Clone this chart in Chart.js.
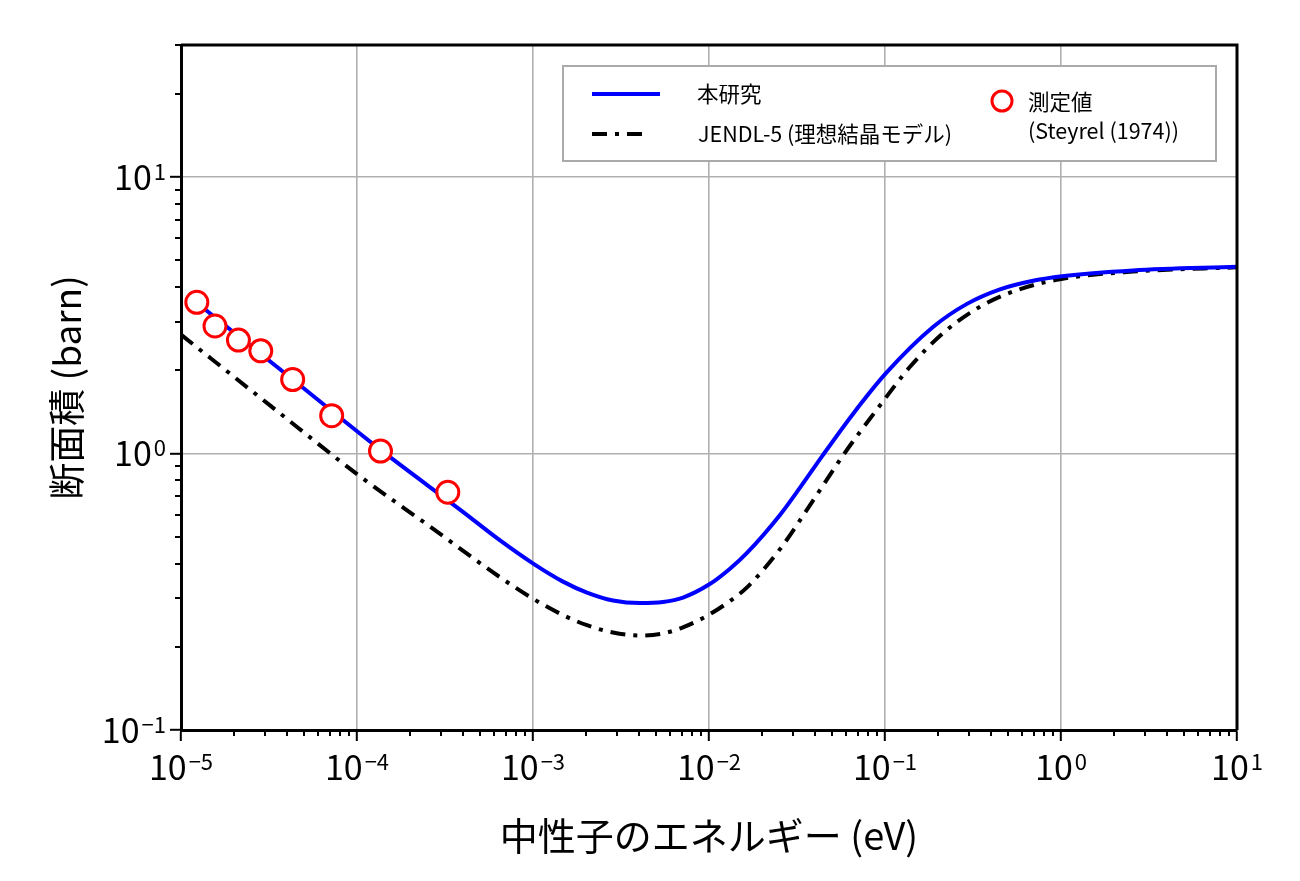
<!DOCTYPE html>
<html lang="ja">
<head>
<meta charset="UTF-8">
<title>断面積 - 中性子のエネルギー</title>
<script src="https://cdn.jsdelivr.net/npm/chart.js"></script>
<style>
  html, body { margin: 0; padding: 0; background: #fff; }
  #wrap { width: 1300px; height: 881px; }
</style>
</head>
<body>
<div id="wrap"><canvas id="chart" width="1300" height="881"></canvas></div>
<script>
// 本研究 (eV, barn)
const studyEnergy = [1.249e-5, 4.16e-5, 1.351e-4, 4.0e-4, 6.245e-4, 1.013e-3, 1.481e-3, 2.026e-3, 2.847e-3,
                     4.055e-3, 5.48e-3, 7.116e-3, 1e-2, 1.316e-2, 1.644e-2, 2.531e-2, 3.289e-2, 4.385e-2,
                     6.58e-2, 0.1013, 0.1874, 0.2923, 0.4501, 0.6934, 1.013, 2.566, 10];
const studyXs = [3.48, 1.886, 1.034, 0.615, 0.494, 0.398, 0.344, 0.314, 0.294,
                 0.2877, 0.2904, 0.3013, 0.3357, 0.3832, 0.4371, 0.5996, 0.7523, 0.9761,
                 1.39, 1.951, 2.866, 3.475, 3.922, 4.213, 4.377, 4.592, 4.73];

// JENDL-5 (理想結晶モデル)
const jendlEnergy = [1e-5, 3.204e-5, 1.013e-4, 2.6e-4, 6.494e-4, 1.013e-3, 1.481e-3, 2.026e-3, 2.847e-3,
                     4.055e-3, 5.48e-3, 7.116e-3, 1e-2, 1.316e-2, 1.644e-2, 2.531e-2, 3.9e-2, 5.772e-2,
                     9.0e-2, 0.1387, 0.2136, 0.3466, 0.5623, 0.987, 2.566, 10];
const jendlXs = [2.69, 1.492, 0.837, 0.5438, 0.3568, 0.2969, 0.2603, 0.2393, 0.2252,
                 0.2197, 0.2235, 0.235, 0.2612, 0.2928, 0.328, 0.4508, 0.6756, 0.9835,
                 1.443, 2.058, 2.722, 3.395, 3.896, 4.269, 4.546, 4.71];

// 測定値 (Steyrel (1974))
const measEnergy = [1.23e-5, 1.56e-5, 2.12e-5, 2.84e-5, 4.31e-5, 7.18e-5, 1.36e-4, 3.28e-4];
const measXs = [3.52, 2.89, 2.57, 2.35, 1.85, 1.37, 1.02, 0.724];

// axis decades (labelled ticks) and ranges
const xDecades = [-5, -4, -3, -2, -1, 0, 1];
const yDecades = [-1, 0, 1];
const xRange = [1e-5, 10];
const yRange = [0.1, 30];

const FONT = '"Noto Sans CJK JP", "Noto Sans", sans-serif';
Chart.defaults.font.family = FONT;
Chart.defaults.color = '#000';

function toPoints(xs, ys) {
  return xs.map((x, i) => ({ x: x, y: ys[i] }));
}

function isDecade(v) {
  const l = Math.log10(v);
  return Math.abs(l - Math.round(l)) < 1e-9;
}

// log ticks at 1..9 x 10^n between min and max
function logTicks(min, max) {
  const out = [];
  for (let e = Math.floor(Math.log10(min)); e <= Math.ceil(Math.log10(max)); e++) {
    for (let m = 1; m <= 9; m++) {
      const v = Number((m * Math.pow(10, e)).toPrecision(3));
      if (v >= min * (1 - 1e-9) && v <= max * (1 + 1e-9)) out.push({ value: v, major: isDecade(v) });
    }
  }
  return out;
}

function gridColor(ctx) {
  return ctx.tick && ctx.tick.major ? '#b0b0b0' : 'rgba(0,0,0,0)';
}
function tickColor(ctx) {
  return ctx.tick && ctx.tick.major ? '#000' : 'rgba(0,0,0,0)';
}

// draws "10" with a raised exponent
function drawPow(ctx, exp, px, py, align) {
  const base = '10';
  const sup = exp < 0 ? '\u2212' + (-exp) : String(exp);
  ctx.font = '34px ' + FONT;
  const wb = ctx.measureText(base).width;
  ctx.font = '22px ' + FONT;
  const ws = ctx.measureText(sup).width;
  const total = wb + 2 + ws;
  const left = align === 'center' ? px - total / 2 : px - total;
  ctx.fillStyle = '#000';
  ctx.textAlign = 'left';
  ctx.textBaseline = 'alphabetic';
  ctx.font = '34px ' + FONT;
  ctx.fillText(base, left, py);
  ctx.font = '22px ' + FONT;
  ctx.fillText(sup, left + wb + 2, py - 10);
}

const decor = {
  id: 'decor',
  afterDraw(chart) {
    const { ctx, chartArea: a, scales: { x, y } } = chart;
    ctx.save();

    // minor ticks
    ctx.strokeStyle = '#000';
    ctx.lineWidth = 2;
    ctx.beginPath();
    x.ticks.forEach(t => {
      if (t.major) return;
      const px = Math.round(x.getPixelForValue(t.value));
      ctx.moveTo(px, a.bottom);
      ctx.lineTo(px, a.bottom + 6);
    });
    y.ticks.forEach(t => {
      if (t.major) return;
      const py = Math.round(y.getPixelForValue(t.value));
      ctx.moveTo(a.left, py);
      ctx.lineTo(a.left - 6, py);
    });
    ctx.stroke();

    // top and right spines
    ctx.lineWidth = 3;
    ctx.beginPath();
    ctx.moveTo(a.left, a.top);
    ctx.lineTo(a.right, a.top);
    ctx.lineTo(a.right, a.bottom);
    ctx.stroke();

    // tick labels
    xDecades.forEach(e => drawPow(ctx, e, x.getPixelForValue(Math.pow(10, e)), a.bottom + 50, 'center'));
    yDecades.forEach(e => drawPow(ctx, e, a.left - 15, y.getPixelForValue(Math.pow(10, e)) + 13, 'right'));

    // legend
    const lx = a.left + 382, ly = a.top + 21;
    ctx.fillStyle = '#fff';
    ctx.fillRect(lx, ly, 653, 95);
    ctx.strokeStyle = '#aaaaaa';
    ctx.lineWidth = 2;
    ctx.strokeRect(lx, ly, 653, 95);

    ctx.lineWidth = 4;
    ctx.strokeStyle = '#0000ff';
    ctx.beginPath();
    ctx.moveTo(lx + 29, ly + 28);
    ctx.lineTo(lx + 97, ly + 28);
    ctx.stroke();

    ctx.strokeStyle = '#000';
    ctx.setLineDash([15, 8, 4, 8]);
    ctx.beginPath();
    ctx.moveTo(lx + 29, ly + 68);
    ctx.lineTo(lx + 79, ly + 68);
    ctx.stroke();
    ctx.setLineDash([]);

    ctx.strokeStyle = '#ff0000';
    ctx.lineWidth = 3;
    ctx.fillStyle = '#fff';
    ctx.beginPath();
    ctx.arc(lx + 439, ly + 35, 10, 0, Math.PI * 2);
    ctx.fill();
    ctx.stroke();

    ctx.fillStyle = '#000';
    ctx.font = '21.5px ' + FONT;
    ctx.textAlign = 'left';
    ctx.textBaseline = 'middle';
    ctx.fillText('本研究', lx + 134, ly + 28);
    ctx.fillText('JENDL-5 (理想結晶モデル)', lx + 135, ly + 68);
    ctx.fillText('測定値', lx + 465, ly + 36);
    ctx.fillText('(Steyrel (1974))', lx + 465, ly + 65);

    ctx.restore();
  }
};

new Chart(document.getElementById('chart'), {
  type: 'scatter',
  data: {
    datasets: [
      {
        label: '測定値 (Steyrel (1974))',
        data: toPoints(measEnergy, measXs),
        showLine: false,
        pointRadius: 11,
        pointBorderWidth: 3,
        pointBorderColor: '#ff0000',
        pointBackgroundColor: '#ffffff',
        order: 0
      },
      {
        label: '本研究',
        data: toPoints(studyEnergy, studyXs),
        showLine: true,
        borderColor: '#0000ff',
        borderWidth: 4,
        pointRadius: 0,
        cubicInterpolationMode: 'monotone',
        order: 1
      },
      {
        label: 'JENDL-5 (理想結晶モデル)',
        data: toPoints(jendlEnergy, jendlXs),
        showLine: true,
        borderColor: '#000000',
        borderWidth: 4,
        borderDash: [15, 8, 4, 8],
        pointRadius: 0,
        cubicInterpolationMode: 'monotone',
        order: 2
      }
    ]
  },
  options: {
    responsive: false,
    animation: false,
    layout: { padding: { left: 0, right: 63, top: 45, bottom: 0 } },
    plugins: { legend: { display: false }, tooltip: { enabled: false } },
    scales: {
      x: {
        type: 'logarithmic',
        min: xRange[0],
        max: xRange[1],
        afterBuildTicks: s => { s.ticks = logTicks(xRange[0], xRange[1]); },
        afterFit: s => { s.height = 151; },
        ticks: { display: false },
        grid: { color: gridColor, lineWidth: 1.6, tickColor: tickColor, tickLength: 11, tickWidth: 2 },
        border: { color: '#000', width: 3 },
        title: { display: true, text: '中性子のエネルギー (eV)', font: { size: 38 }, padding: { top: 0, bottom: 23 } }
      },
      y: {
        type: 'logarithmic',
        min: yRange[0],
        max: yRange[1],
        afterBuildTicks: s => { s.ticks = logTicks(yRange[0], yRange[1]); },
        afterFit: s => { s.width = 181; },
        ticks: { display: false },
        grid: { color: gridColor, lineWidth: 1.6, tickColor: tickColor, tickLength: 11, tickWidth: 2 },
        border: { color: '#000', width: 3 },
        title: { display: true, text: '断面積 (barn)', font: { size: 37 }, padding: { top: 45, bottom: 0 } }
      }
    }
  },
  plugins: [decor]
});
</script>
</body>
</html>
